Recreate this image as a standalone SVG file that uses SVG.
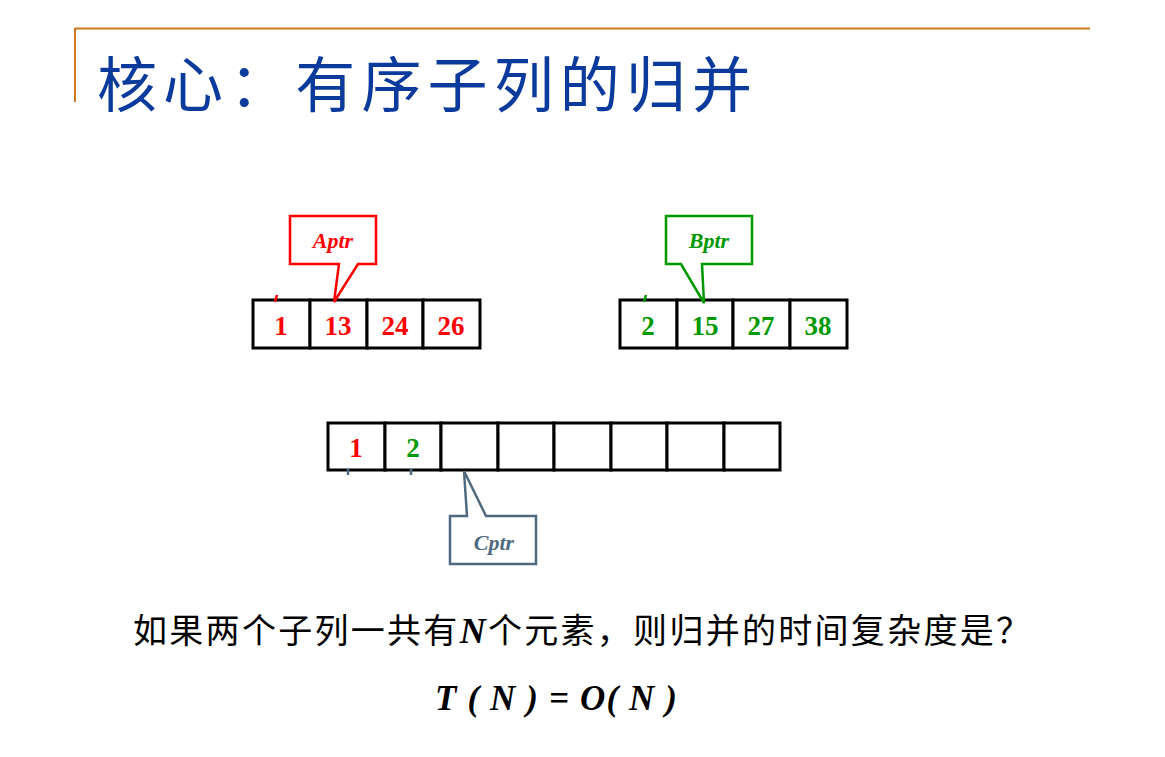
<svg xmlns="http://www.w3.org/2000/svg" width="1165" height="757" viewBox="0 0 1165 757">
<style>
.cell{fill:#fff;stroke:#000;stroke-width:3}
.num{font-family:"Liberation Serif",serif;font-weight:bold;font-size:27px;text-anchor:middle}
.red{fill:#ff0000}
.green{fill:#009900}
.lbl{font-family:"Liberation Serif",serif;font-weight:bold;font-style:italic;font-size:22px;text-anchor:middle}
.cjk{font-family:"Noto Sans CJK SC","Noto Sans CJK JP",sans-serif}
</style>
<rect width="1165" height="757" fill="#fff"/>
<g id="frame">
<line x1="75" y1="28.5" x2="1090" y2="28.5" stroke="#d0781e" stroke-width="2"/>
<line x1="75" y1="28" x2="75" y2="102" stroke="#d0781e" stroke-width="2"/>
</g>
<g id="title">
<text x="97" y="107" class="cjk" font-size="60" fill="#0a3a9c" textLength="655" lengthAdjust="spacing">核心：有序子列的归并</text>
</g>
<g id="arrayA">
<rect class="cell" x="253" y="300" width="57" height="48"/>
<rect class="cell" x="310" y="300" width="57" height="48"/>
<rect class="cell" x="367" y="300" width="56" height="48"/>
<rect class="cell" x="423" y="300" width="57" height="48"/>
<text class="num red" x="281" y="335">1</text>
<text class="num red" x="338" y="335">13</text>
<text class="num red" x="395" y="335">24</text>
<text class="num red" x="451" y="335">26</text>
<line x1="277" y1="295" x2="275" y2="302" stroke="#ff0000" stroke-width="2.5"/>
</g>
<g id="arrayB">
<rect class="cell" x="620" y="300" width="57" height="48"/>
<rect class="cell" x="677" y="300" width="56" height="48"/>
<rect class="cell" x="733" y="300" width="57" height="48"/>
<rect class="cell" x="790" y="300" width="57" height="48"/>
<text class="num green" x="648" y="335">2</text>
<text class="num green" x="705" y="335">15</text>
<text class="num green" x="761" y="335">27</text>
<text class="num green" x="818" y="335">38</text>
<line x1="646" y1="295" x2="644" y2="302" stroke="#009900" stroke-width="2.5"/>
</g>
<g id="arrayC">
<rect class="cell" x="328" y="423" width="57" height="47"/>
<rect class="cell" x="385" y="423" width="56" height="47"/>
<rect class="cell" x="441" y="423" width="57" height="47"/>
<rect class="cell" x="498" y="423" width="56" height="47"/>
<rect class="cell" x="554" y="423" width="57" height="47"/>
<rect class="cell" x="611" y="423" width="56" height="47"/>
<rect class="cell" x="667" y="423" width="57" height="47"/>
<rect class="cell" x="724" y="423" width="56" height="47"/>
<text class="num red" x="356" y="457">1</text>
<text class="num green" x="413" y="457">2</text>
<line x1="348" y1="469" x2="348" y2="475" stroke="#4f6a80" stroke-width="2.5"/>
<line x1="411" y1="469" x2="411" y2="475" stroke="#4f6a80" stroke-width="2.5"/>
</g>
<g id="Aptr">
<path d="M290,216 H376 V264 H358 L334,302 L339,264 H290 Z" fill="#fff" stroke="#ff0000" stroke-width="2.5"/>
<text class="lbl red" x="333" y="248">Aptr</text>
</g>
<g id="Bptr">
<path d="M666,216 H752 V264 H702 L704,303 L681,264 H666 Z" fill="#fff" stroke="#009900" stroke-width="2.5"/>
<text class="lbl green" x="709" y="248">Bptr</text>
</g>
<g id="Cptr">
<path d="M450,516 H467 L464,471 L486,516 H536 V564 H450 Z" fill="#fff" stroke="#4f6a80" stroke-width="2.5"/>
<text class="lbl" fill="#4f6a80" x="494" y="550">Cptr</text>
</g>
<g id="question">
<text x="133" y="643" font-size="34" fill="#000" class="cjk" textLength="897" lengthAdjust="spacing">如果两个子列一共有<tspan font-family="Liberation Serif,serif" font-weight="bold" font-style="italic" font-size="36">N</tspan>个元素，则归并的时间复杂度是？</text>
</g>
<g id="formula">
<text x="435" y="710" font-family="Liberation Serif,serif" font-weight="bold" font-style="italic" font-size="35" fill="#000" textLength="242" lengthAdjust="spacing">T ( N ) = O( N )</text>
</g>
</svg>
